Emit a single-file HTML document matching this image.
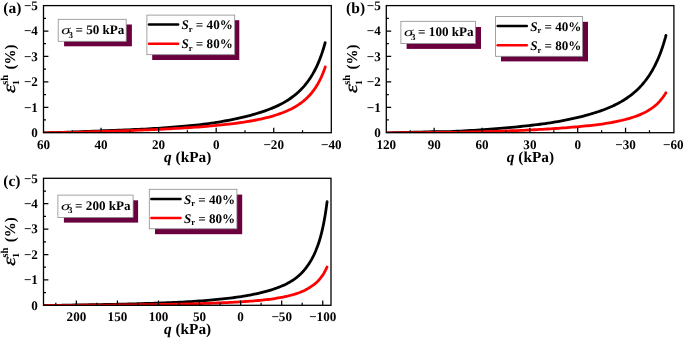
<!DOCTYPE html>
<html><head><meta charset="utf-8"><title>Figure</title>
<style>html,body{margin:0;padding:0;background:#fff;}body{width:685px;height:338px;overflow:hidden;font-family:"Liberation Serif",serif;}</style></head>
<body>
<svg width="685" height="338" viewBox="0 0 685 338" style="display:block;will-change:transform">
<rect width="685" height="338" fill="#fff"/>
<g font-family='"Liberation Serif", serif' font-weight="bold" fill="#000" text-rendering="geometricPrecision">
<clipPath id="cp0"><rect x="43.50" y="5.60" width="287.80" height="127.10"/></clipPath>
<rect x="64.1" y="24.5" width="67.8" height="21.8" fill="#6b003e"/>
<rect x="58.2" y="19.3" width="68.0" height="22.0" fill="#fff" stroke="#8c8c8c" stroke-width="0.8"/>
<text transform="translate(61.2 34.2) scale(1.5 1)" font-size="12.4" font-style="italic" font-weight="normal">σ</text>
<text x="68.4" y="37.5" font-size="9">3</text>
<text x="75.4" y="34.2" font-size="13.1">= 50 kPa</text>
<rect x="152.2" y="20.2" width="87.1" height="39.8" fill="#6b003e"/>
<rect x="146.9" y="15.1" width="87.8" height="39.6" fill="#fff" stroke="#8c8c8c" stroke-width="0.8"/>
<line x1="149.0" y1="24.6" x2="178.1" y2="24.6" stroke="#000" stroke-width="2.5" stroke-linecap="round"/>
<text x="181.5" y="29.2" font-size="13.1"><tspan font-style="italic">S</tspan><tspan font-size="8.5" dy="2.8">r</tspan><tspan dy="-2.8"> = 40%</tspan></text>
<line x1="149.0" y1="43.8" x2="178.1" y2="43.8" stroke="#f00" stroke-width="2.5" stroke-linecap="round"/>
<text x="181.5" y="48.4" font-size="13.1"><tspan font-style="italic">S</tspan><tspan font-size="8.5" dy="2.8">r</tspan><tspan dy="-2.8"> = 80%</tspan></text>
<g clip-path="url(#cp0)">
<path d="M43.50 132.90 L47.51 132.79 L51.49 132.67 L55.44 132.56 L59.36 132.44 L63.26 132.32 L67.12 132.19 L70.96 132.07 L74.77 131.93 L78.55 131.80 L82.30 131.65 L86.02 131.51 L89.71 131.36 L93.38 131.21 L97.01 131.06 L100.62 130.91 L104.20 130.77 L107.75 130.62 L111.27 130.48 L114.76 130.34 L118.22 130.21 L121.66 130.07 L125.06 129.93 L128.44 129.79 L131.79 129.65 L135.11 129.50 L138.40 129.35 L141.66 129.19 L144.89 129.03 L148.10 128.86 L151.27 128.69 L154.42 128.50 L157.54 128.31 L160.63 128.11 L163.69 127.90 L166.72 127.69 L169.73 127.46 L172.70 127.24 L175.65 127.00 L178.56 126.76 L181.45 126.51 L184.31 126.26 L187.14 126.00 L189.94 125.73 L192.72 125.45 L195.46 125.16 L198.18 124.87 L200.86 124.56 L203.52 124.24 L206.15 123.91 L208.75 123.55 L211.33 123.19 L213.87 122.81 L216.38 122.42 L218.87 122.02 L221.33 121.60 L223.76 121.18 L226.16 120.75 L228.53 120.31 L230.87 119.85 L233.18 119.40 L235.47 118.93 L237.72 118.45 L239.95 117.95 L242.15 117.44 L244.32 116.92 L246.46 116.39 L248.57 115.84 L250.66 115.28 L252.71 114.70 L254.74 114.12 L256.73 113.53 L258.70 112.92 L260.64 112.31 L262.55 111.68 L264.44 111.05 L266.29 110.40 L268.12 109.73 L269.91 109.05 L271.68 108.35 L273.42 107.63 L275.13 106.89 L276.81 106.14 L278.46 105.36 L280.09 104.55 L281.68 103.73 L283.25 102.88 L284.78 102.01 L286.29 101.11 L287.77 100.19 L289.23 99.24 L290.65 98.26 L292.04 97.26 L293.41 96.23 L294.74 95.18 L296.05 94.10 L297.33 92.99 L298.58 91.86 L299.80 90.70 L300.99 89.52 L302.16 88.31 L303.29 87.07 L304.40 85.81 L305.48 84.52 L306.53 83.20 L307.55 81.87 L308.54 80.51 L309.50 79.13 L310.44 77.73 L311.34 76.31 L312.22 74.87 L313.06 73.42 L313.88 71.95 L314.67 70.48 L315.44 69.00 L316.17 67.52 L316.87 66.03 L317.55 64.55 L318.19 63.08 L318.81 61.61 L319.40 60.17 L319.96 58.74 L320.49 57.34 L321.00 55.97 L321.47 54.64 L321.92 53.35 L322.33 52.11 L322.72 50.92 L323.08 49.79 L323.41 48.73 L323.71 47.74 L323.99 46.82 L324.23 45.99 L324.45 45.24 L324.63 44.58 L324.79 44.01 L324.92 43.54 L325.02 43.18 L325.09 42.91 L325.14 42.76 L325.15 42.70" fill="none" stroke="#000" stroke-width="2.8" stroke-linecap="round" stroke-linejoin="round"/>
<path d="M43.50 132.90 L47.51 132.83 L51.49 132.75 L55.45 132.67 L59.37 132.60 L63.27 132.52 L67.13 132.43 L70.97 132.35 L74.78 132.26 L78.56 132.16 L82.31 132.06 L86.04 131.96 L89.73 131.85 L93.40 131.74 L97.03 131.63 L100.64 131.52 L104.22 131.41 L107.77 131.30 L111.29 131.19 L114.79 131.08 L118.25 130.96 L121.69 130.84 L125.09 130.72 L128.47 130.60 L131.82 130.48 L135.14 130.35 L138.43 130.22 L141.70 130.09 L144.93 129.95 L148.14 129.82 L151.31 129.68 L154.46 129.54 L157.58 129.39 L160.67 129.25 L163.73 129.10 L166.77 128.95 L169.77 128.79 L172.75 128.63 L175.69 128.47 L178.61 128.30 L181.50 128.13 L184.36 127.95 L187.19 127.77 L190.00 127.59 L192.77 127.40 L195.52 127.20 L198.23 127.00 L200.92 126.80 L203.58 126.59 L206.21 126.38 L208.81 126.16 L211.39 125.93 L213.93 125.70 L216.45 125.46 L218.93 125.21 L221.39 124.96 L223.82 124.71 L226.22 124.44 L228.59 124.17 L230.94 123.89 L233.25 123.60 L235.54 123.31 L237.79 123.00 L240.02 122.69 L242.22 122.37 L244.39 122.04 L246.53 121.70 L248.65 121.36 L250.73 121.00 L252.79 120.63 L254.81 120.25 L256.81 119.86 L258.78 119.46 L260.72 119.05 L262.63 118.62 L264.52 118.18 L266.37 117.73 L268.20 117.27 L269.99 116.79 L271.76 116.30 L273.50 115.80 L275.21 115.28 L276.89 114.74 L278.55 114.19 L280.17 113.62 L281.77 113.04 L283.33 112.44 L284.87 111.82 L286.38 111.18 L287.86 110.53 L289.31 109.85 L290.74 109.16 L292.13 108.45 L293.50 107.71 L294.83 106.96 L296.14 106.19 L297.42 105.39 L298.67 104.57 L299.89 103.74 L301.09 102.88 L302.25 102.00 L303.39 101.10 L304.49 100.17 L305.57 99.23 L306.62 98.26 L307.64 97.28 L308.63 96.27 L309.60 95.25 L310.53 94.20 L311.44 93.14 L312.31 92.06 L313.16 90.97 L313.98 89.87 L314.77 88.75 L315.53 87.63 L316.27 86.49 L316.97 85.36 L317.65 84.22 L318.29 83.08 L318.91 81.95 L319.50 80.83 L320.06 79.71 L320.59 78.62 L321.10 77.55 L321.57 76.50 L322.02 75.48 L322.43 74.50 L322.82 73.55 L323.18 72.65 L323.51 71.80 L323.81 71.01 L324.09 70.27 L324.33 69.60 L324.55 69.00 L324.73 68.46 L324.89 68.01 L325.02 67.63 L325.12 67.33 L325.19 67.12 L325.24 66.99 L325.25 66.94" fill="none" stroke="#f00" stroke-width="2.8" stroke-linecap="round" stroke-linejoin="round"/>
</g>
<rect x="43.50" y="5.60" width="287.80" height="127.10" fill="none" stroke="#000" stroke-width="1.30"/>
<path d="M43.50 119.99h2.5M43.50 107.28h4.9M43.50 94.57h2.5M43.50 81.86h4.9M43.50 69.15h2.5M43.50 56.44h4.9M43.50 43.73h2.5M43.50 31.02h4.9M43.50 18.31h2.5M101.06 132.70v-4.9M158.62 132.70v-4.9M216.18 132.70v-4.9M273.74 132.70v-4.9M72.28 132.70v-2.5M129.84 132.70v-2.5M187.40 132.70v-2.5M244.96 132.70v-2.5M302.52 132.70v-2.5" stroke="#000" stroke-width="1.25" fill="none"/>
<text x="37.9" y="136.9" font-size="13.1" text-anchor="end">0</text>
<text x="37.9" y="111.5" font-size="13.1" text-anchor="end">−1</text>
<text x="37.9" y="86.1" font-size="13.1" text-anchor="end">−2</text>
<text x="37.9" y="60.6" font-size="13.1" text-anchor="end">−3</text>
<text x="37.9" y="35.2" font-size="13.1" text-anchor="end">−4</text>
<text x="37.9" y="9.8" font-size="13.1" text-anchor="end">−5</text>
<text x="43.5" y="148.7" font-size="13.1" text-anchor="middle">60</text>
<text x="101.1" y="148.7" font-size="13.1" text-anchor="middle">40</text>
<text x="158.6" y="148.7" font-size="13.1" text-anchor="middle">20</text>
<text x="216.2" y="148.7" font-size="13.1" text-anchor="middle">0</text>
<text x="273.7" y="148.7" font-size="13.1" text-anchor="middle">−20</text>
<text x="331.3" y="148.7" font-size="13.1" text-anchor="middle">−40</text>
<text x="187.7" y="161.5" font-size="15.3" text-anchor="middle"><tspan font-style="italic">q</tspan> (kPa)</text>
<g transform="translate(14.5 93.6) rotate(-90)">
<text x="0.5" y="0" font-size="17.5" font-style="italic" font-weight="normal" stroke="#000" stroke-width="0.3" textLength="8.6" lengthAdjust="spacingAndGlyphs">ε</text>
<text x="8.6" y="4.8" font-size="9.5">1</text>
<text x="8.8" y="-7.0" font-size="10.5">sh</text>
<text x="24.0" y="0" font-size="15">(%)</text>
</g>
<text x="3.3" y="13.2" font-size="15.5">(a)</text>
<clipPath id="cp1"><rect x="386.30" y="5.60" width="287.60" height="127.10"/></clipPath>
<rect x="406.6" y="27.0" width="74.4" height="21.9" fill="#6b003e"/>
<rect x="400.9" y="21.3" width="74.7" height="22.3" fill="#fff" stroke="#8c8c8c" stroke-width="0.8"/>
<text transform="translate(403.9 36.2) scale(1.5 1)" font-size="12.4" font-style="italic" font-weight="normal">σ</text>
<text x="411.1" y="39.5" font-size="9">3</text>
<text x="418.1" y="36.2" font-size="13.1">= 100 kPa</text>
<rect x="501.0" y="21.8" width="87.0" height="39.6" fill="#6b003e"/>
<rect x="495.6" y="16.5" width="87.0" height="39.8" fill="#fff" stroke="#8c8c8c" stroke-width="0.8"/>
<line x1="497.7" y1="26.1" x2="526.8" y2="26.1" stroke="#000" stroke-width="2.5" stroke-linecap="round"/>
<text x="530.2" y="30.6" font-size="13.1"><tspan font-style="italic">S</tspan><tspan font-size="8.5" dy="2.8">r</tspan><tspan dy="-2.8"> = 40%</tspan></text>
<line x1="497.7" y1="45.2" x2="526.8" y2="45.2" stroke="#f00" stroke-width="2.5" stroke-linecap="round"/>
<text x="530.2" y="49.8" font-size="13.1"><tspan font-style="italic">S</tspan><tspan font-size="8.5" dy="2.8">r</tspan><tspan dy="-2.8"> = 80%</tspan></text>
<g clip-path="url(#cp1)">
<path d="M386.30 132.95 L390.28 132.83 L394.23 132.71 L398.16 132.60 L402.05 132.50 L405.92 132.40 L409.76 132.30 L413.57 132.21 L417.35 132.12 L421.10 132.03 L424.82 131.94 L428.52 131.85 L432.19 131.76 L435.82 131.70 L439.43 131.69 L443.01 131.70 L446.57 131.69 L450.09 131.61 L453.59 131.45 L457.05 131.26 L460.49 131.08 L463.90 130.89 L467.28 130.69 L470.64 130.49 L473.96 130.28 L477.26 130.08 L480.52 129.86 L483.76 129.64 L486.97 129.42 L490.16 129.19 L493.31 128.95 L496.43 128.70 L499.53 128.44 L502.60 128.18 L505.64 127.91 L508.65 127.64 L511.63 127.36 L514.58 127.08 L517.51 126.79 L520.40 126.50 L523.27 126.20 L526.11 125.89 L528.92 125.58 L531.70 125.26 L534.46 124.93 L537.18 124.59 L539.88 124.24 L542.55 123.89 L545.19 123.53 L547.80 123.15 L550.38 122.76 L552.93 122.36 L555.46 121.95 L557.96 121.52 L560.42 121.07 L562.86 120.62 L565.28 120.15 L567.66 119.68 L570.01 119.19 L572.34 118.69 L574.64 118.18 L576.90 117.66 L579.14 117.13 L581.36 116.58 L583.54 116.03 L585.69 115.46 L587.82 114.87 L589.92 114.27 L591.99 113.66 L594.03 113.03 L596.04 112.39 L598.02 111.74 L599.98 111.07 L601.90 110.39 L603.80 109.69 L605.67 108.98 L607.51 108.25 L609.32 107.50 L611.10 106.73 L612.86 105.94 L614.59 105.12 L616.28 104.29 L617.95 103.43 L619.59 102.55 L621.21 101.65 L622.79 100.71 L624.34 99.75 L625.87 98.77 L627.37 97.75 L628.84 96.71 L630.28 95.65 L631.69 94.55 L633.08 93.43 L634.43 92.28 L635.76 91.11 L637.06 89.91 L638.33 88.68 L639.57 87.43 L640.78 86.15 L641.97 84.84 L643.12 83.50 L644.25 82.14 L645.35 80.75 L646.42 79.33 L647.46 77.90 L648.47 76.44 L649.46 74.96 L650.41 73.46 L651.34 71.95 L652.24 70.43 L653.11 68.89 L653.95 67.35 L654.76 65.79 L655.55 64.24 L656.30 62.68 L657.03 61.11 L657.73 59.56 L658.40 58.00 L659.04 56.46 L659.66 54.93 L660.24 53.43 L660.80 51.94 L661.33 50.49 L661.83 49.07 L662.30 47.70 L662.74 46.36 L663.15 45.08 L663.54 43.86 L663.90 42.70 L664.22 41.61 L664.52 40.59 L664.79 39.65 L665.04 38.80 L665.25 38.03 L665.44 37.36 L665.59 36.78 L665.72 36.31 L665.82 35.94 L665.89 35.67 L665.94 35.51 L665.95 35.45" fill="none" stroke="#000" stroke-width="2.8" stroke-linecap="round" stroke-linejoin="round"/>
<path d="M386.30 132.95 L390.28 132.90 L394.23 132.85 L398.15 132.80 L402.05 132.76 L405.91 132.72 L409.75 132.68 L413.56 132.65 L417.34 132.61 L421.09 132.57 L424.82 132.54 L428.51 132.50 L432.18 132.47 L435.81 132.44 L439.42 132.43 L443.00 132.44 L446.56 132.43 L450.08 132.40 L453.58 132.35 L457.04 132.28 L460.48 132.21 L463.89 132.14 L467.27 132.06 L470.62 131.99 L473.95 131.91 L477.24 131.83 L480.51 131.74 L483.75 131.66 L486.96 131.57 L490.14 131.48 L493.29 131.38 L496.41 131.29 L499.51 131.19 L502.58 131.08 L505.62 130.98 L508.62 130.87 L511.61 130.76 L514.56 130.64 L517.48 130.53 L520.38 130.41 L523.25 130.28 L526.09 130.15 L528.90 130.02 L531.68 129.89 L534.43 129.75 L537.16 129.60 L539.85 129.46 L542.52 129.31 L545.16 129.15 L547.77 129.00 L550.35 128.83 L552.90 128.67 L555.43 128.50 L557.93 128.33 L560.39 128.15 L562.83 127.97 L565.24 127.79 L567.63 127.60 L569.98 127.41 L572.31 127.21 L574.60 127.01 L576.87 126.81 L579.11 126.60 L581.32 126.39 L583.50 126.18 L585.66 125.96 L587.78 125.75 L589.88 125.54 L591.95 125.31 L593.99 125.08 L596.00 124.85 L597.98 124.60 L599.94 124.34 L601.86 124.06 L603.76 123.78 L605.63 123.49 L607.47 123.19 L609.28 122.88 L611.06 122.57 L612.82 122.25 L614.54 121.92 L616.24 121.58 L617.91 121.23 L619.55 120.87 L621.16 120.50 L622.75 120.13 L624.30 119.74 L625.83 119.35 L627.33 118.94 L628.80 118.53 L630.24 118.10 L631.65 117.67 L633.03 117.23 L634.39 116.77 L635.71 116.31 L637.01 115.83 L638.28 115.34 L639.52 114.85 L640.74 114.34 L641.92 113.82 L643.08 113.30 L644.20 112.76 L645.30 112.20 L646.37 111.61 L647.41 111.01 L648.42 110.39 L649.41 109.77 L650.37 109.16 L651.29 108.54 L652.19 107.92 L653.06 107.30 L653.90 106.67 L654.72 106.04 L655.50 105.40 L656.26 104.75 L656.98 104.08 L657.68 103.40 L658.35 102.71 L659.00 102.01 L659.61 101.33 L660.19 100.65 L660.75 100.00 L661.28 99.36 L661.78 98.73 L662.25 98.13 L662.69 97.55 L663.10 96.98 L663.49 96.45 L663.85 95.94 L664.17 95.47 L664.47 95.02 L664.74 94.61 L664.99 94.24 L665.20 93.91 L665.39 93.62 L665.54 93.37 L665.67 93.16 L665.77 93.00 L665.84 92.89 L665.89 92.82 L665.90 92.79" fill="none" stroke="#f00" stroke-width="2.8" stroke-linecap="round" stroke-linejoin="round"/>
</g>
<rect x="386.30" y="5.60" width="287.60" height="127.10" fill="none" stroke="#000" stroke-width="1.30"/>
<path d="M386.30 119.99h2.5M386.30 107.28h4.9M386.30 94.57h2.5M386.30 81.86h4.9M386.30 69.15h2.5M386.30 56.44h4.9M386.30 43.73h2.5M386.30 31.02h4.9M386.30 18.31h2.5M434.15 132.70v-4.9M482.00 132.70v-4.9M529.85 132.70v-4.9M577.70 132.70v-4.9M625.55 132.70v-4.9M410.23 132.70v-2.5M458.08 132.70v-2.5M505.93 132.70v-2.5M553.77 132.70v-2.5M601.62 132.70v-2.5M649.48 132.70v-2.5" stroke="#000" stroke-width="1.25" fill="none"/>
<text x="380.7" y="136.9" font-size="13.1" text-anchor="end">0</text>
<text x="380.7" y="111.5" font-size="13.1" text-anchor="end">−1</text>
<text x="380.7" y="86.1" font-size="13.1" text-anchor="end">−2</text>
<text x="380.7" y="60.6" font-size="13.1" text-anchor="end">−3</text>
<text x="380.7" y="35.2" font-size="13.1" text-anchor="end">−4</text>
<text x="380.7" y="9.8" font-size="13.1" text-anchor="end">−5</text>
<text x="386.3" y="148.7" font-size="13.1" text-anchor="middle">120</text>
<text x="434.2" y="148.7" font-size="13.1" text-anchor="middle">90</text>
<text x="482.0" y="148.7" font-size="13.1" text-anchor="middle">60</text>
<text x="529.9" y="148.7" font-size="13.1" text-anchor="middle">30</text>
<text x="577.7" y="148.7" font-size="13.1" text-anchor="middle">0</text>
<text x="625.5" y="148.7" font-size="13.1" text-anchor="middle">−30</text>
<text x="673.4" y="148.7" font-size="13.1" text-anchor="middle">−60</text>
<text x="530.4" y="161.5" font-size="15.3" text-anchor="middle"><tspan font-style="italic">q</tspan> (kPa)</text>
<g transform="translate(357.3 93.6) rotate(-90)">
<text x="0.5" y="0" font-size="17.5" font-style="italic" font-weight="normal" stroke="#000" stroke-width="0.3" textLength="8.6" lengthAdjust="spacingAndGlyphs">ε</text>
<text x="8.6" y="4.8" font-size="9.5">1</text>
<text x="8.8" y="-7.0" font-size="10.5">sh</text>
<text x="24.0" y="0" font-size="15">(%)</text>
</g>
<text x="346.1" y="13.2" font-size="15.5">(b)</text>
<clipPath id="cp2"><rect x="43.50" y="178.30" width="287.50" height="127.00"/></clipPath>
<rect x="63.9" y="200.3" width="74.2" height="22.3" fill="#6b003e"/>
<rect x="57.9" y="195.1" width="75.2" height="22.3" fill="#fff" stroke="#8c8c8c" stroke-width="0.8"/>
<text transform="translate(60.9 210.0) scale(1.5 1)" font-size="12.4" font-style="italic" font-weight="normal">σ</text>
<text x="68.1" y="213.3" font-size="9">3</text>
<text x="75.1" y="210.0" font-size="13.1">= 200 kPa</text>
<rect x="155.0" y="194.6" width="87.2" height="39.6" fill="#6b003e"/>
<rect x="149.3" y="189.3" width="87.6" height="39.5" fill="#fff" stroke="#8c8c8c" stroke-width="0.8"/>
<line x1="151.4" y1="198.9" x2="180.5" y2="198.9" stroke="#000" stroke-width="2.5" stroke-linecap="round"/>
<text x="183.9" y="203.5" font-size="13.1"><tspan font-style="italic">S</tspan><tspan font-size="8.5" dy="2.8">r</tspan><tspan dy="-2.8"> = 40%</tspan></text>
<line x1="151.4" y1="218.0" x2="180.5" y2="218.0" stroke="#f00" stroke-width="2.5" stroke-linecap="round"/>
<text x="183.9" y="222.6" font-size="13.1"><tspan font-style="italic">S</tspan><tspan font-size="8.5" dy="2.8">r</tspan><tspan dy="-2.8"> = 80%</tspan></text>
<g clip-path="url(#cp2)">
<path d="M43.50 305.55 L47.54 305.48 L51.54 305.42 L55.52 305.35 L59.47 305.29 L63.40 305.22 L67.29 305.16 L71.15 305.09 L74.99 305.02 L78.79 304.96 L82.57 304.89 L86.31 304.82 L90.03 304.75 L93.72 304.68 L97.38 304.62 L101.02 304.55 L104.62 304.49 L108.19 304.42 L111.74 304.35 L115.25 304.29 L118.74 304.21 L122.20 304.14 L125.63 304.06 L129.03 303.98 L132.40 303.90 L135.74 303.81 L139.06 303.72 L142.34 303.62 L145.60 303.52 L148.82 303.42 L152.02 303.32 L155.19 303.21 L158.33 303.10 L161.44 302.98 L164.52 302.87 L167.58 302.74 L170.60 302.62 L173.59 302.48 L176.56 302.34 L179.50 302.20 L182.41 302.05 L185.29 301.89 L188.14 301.72 L190.96 301.55 L193.75 301.37 L196.51 301.18 L199.25 300.98 L201.95 300.78 L204.63 300.57 L207.28 300.35 L209.90 300.13 L212.49 299.90 L215.05 299.66 L217.58 299.42 L220.08 299.17 L222.56 298.91 L225.00 298.64 L227.42 298.37 L229.81 298.08 L232.17 297.79 L234.50 297.49 L236.80 297.18 L239.07 296.86 L241.31 296.53 L243.52 296.18 L245.71 295.81 L247.87 295.43 L249.99 295.04 L252.09 294.63 L254.16 294.20 L256.20 293.76 L258.21 293.31 L260.19 292.85 L262.15 292.38 L264.07 291.89 L265.97 291.40 L267.83 290.89 L269.67 290.36 L271.48 289.81 L273.26 289.24 L275.01 288.66 L276.73 288.05 L278.42 287.42 L280.09 286.76 L281.72 286.08 L283.33 285.38 L284.91 284.65 L286.46 283.88 L287.97 283.09 L289.47 282.26 L290.93 281.39 L292.36 280.49 L293.76 279.55 L295.14 278.57 L296.48 277.56 L297.80 276.50 L299.09 275.40 L300.35 274.26 L301.58 273.06 L302.78 271.79 L303.95 270.47 L305.09 269.09 L306.21 267.66 L307.29 266.19 L308.35 264.67 L309.38 263.11 L310.37 261.51 L311.34 259.86 L312.28 258.15 L313.19 256.39 L314.08 254.57 L314.93 252.71 L315.76 250.81 L316.55 248.85 L317.32 246.85 L318.06 244.79 L318.77 242.68 L319.45 240.53 L320.10 238.33 L320.72 236.10 L321.31 233.85 L321.88 231.57 L322.41 229.27 L322.92 226.98 L323.40 224.70 L323.84 222.43 L324.26 220.20 L324.65 218.02 L325.02 215.91 L325.35 213.88 L325.65 211.94 L325.93 210.13 L326.17 208.44 L326.39 206.91 L326.58 205.54 L326.74 204.36 L326.87 203.37 L326.97 202.58 L327.04 202.02 L327.09 201.67 L327.10 201.56" fill="none" stroke="#000" stroke-width="2.8" stroke-linecap="round" stroke-linejoin="round"/>
<path d="M43.50 305.55 L47.54 305.52 L51.54 305.49 L55.52 305.47 L59.47 305.44 L63.39 305.41 L67.28 305.38 L71.14 305.35 L74.97 305.33 L78.78 305.30 L82.55 305.27 L86.30 305.24 L90.02 305.21 L93.71 305.18 L97.36 305.15 L101.00 305.12 L104.60 305.10 L108.17 305.07 L111.71 305.04 L115.23 305.01 L118.71 304.98 L122.17 304.95 L125.60 304.92 L129.00 304.88 L132.37 304.85 L135.71 304.81 L139.02 304.77 L142.31 304.73 L145.56 304.69 L148.79 304.64 L151.98 304.60 L155.15 304.55 L158.29 304.51 L161.40 304.46 L164.48 304.41 L167.53 304.36 L170.55 304.30 L173.55 304.25 L176.51 304.19 L179.45 304.13 L182.36 304.06 L185.24 304.00 L188.09 303.93 L190.91 303.86 L193.70 303.78 L196.46 303.71 L199.19 303.62 L201.90 303.54 L204.57 303.45 L207.22 303.36 L209.84 303.27 L212.43 303.18 L214.99 303.08 L217.52 302.98 L220.02 302.88 L222.50 302.77 L224.94 302.66 L227.36 302.55 L229.74 302.43 L232.10 302.31 L234.43 302.18 L236.73 302.05 L239.00 301.92 L241.24 301.78 L243.45 301.64 L245.64 301.50 L247.79 301.34 L249.92 301.19 L252.02 301.03 L254.09 300.86 L256.12 300.69 L258.14 300.51 L260.12 300.33 L262.07 300.14 L263.99 299.94 L265.89 299.73 L267.75 299.51 L269.59 299.28 L271.40 299.04 L273.18 298.78 L274.93 298.51 L276.65 298.23 L278.34 297.94 L280.01 297.65 L281.64 297.34 L283.25 297.02 L284.82 296.68 L286.37 296.34 L287.89 295.99 L289.38 295.63 L290.84 295.26 L292.27 294.88 L293.67 294.48 L295.05 294.07 L296.39 293.65 L297.71 293.21 L299.00 292.75 L300.26 292.28 L301.48 291.79 L302.69 291.28 L303.86 290.75 L305.00 290.19 L306.11 289.60 L307.20 288.99 L308.25 288.36 L309.28 287.73 L310.28 287.09 L311.25 286.45 L312.19 285.81 L313.10 285.17 L313.98 284.51 L314.84 283.84 L315.66 283.15 L316.46 282.44 L317.22 281.72 L317.96 280.98 L318.67 280.23 L319.35 279.47 L320.00 278.71 L320.62 277.95 L321.21 277.19 L321.78 276.43 L322.31 275.68 L322.82 274.93 L323.30 274.19 L323.75 273.46 L324.17 272.74 L324.56 272.05 L324.92 271.39 L325.25 270.76 L325.55 270.16 L325.83 269.61 L326.07 269.10 L326.29 268.63 L326.48 268.22 L326.64 267.87 L326.77 267.57 L326.87 267.34 L326.94 267.17 L326.99 267.06 L327.00 267.03" fill="none" stroke="#f00" stroke-width="2.8" stroke-linecap="round" stroke-linejoin="round"/>
</g>
<rect x="43.50" y="178.30" width="287.50" height="127.00" fill="none" stroke="#000" stroke-width="1.30"/>
<path d="M43.50 292.60h2.5M43.50 279.90h4.9M43.50 267.20h2.5M43.50 254.50h4.9M43.50 241.80h2.5M43.50 229.10h4.9M43.50 216.40h2.5M43.50 203.70h4.9M43.50 191.00h2.5M76.35 305.30v-4.9M117.42 305.30v-4.9M158.48 305.30v-4.9M199.55 305.30v-4.9M240.61 305.30v-4.9M281.68 305.30v-4.9M322.74 305.30v-4.9M55.82 305.30v-2.5M96.88 305.30v-2.5M137.95 305.30v-2.5M179.01 305.30v-2.5M220.08 305.30v-2.5M261.14 305.30v-2.5M302.21 305.30v-2.5" stroke="#000" stroke-width="1.25" fill="none"/>
<text x="37.9" y="309.5" font-size="13.1" text-anchor="end">0</text>
<text x="37.9" y="284.1" font-size="13.1" text-anchor="end">−1</text>
<text x="37.9" y="258.7" font-size="13.1" text-anchor="end">−2</text>
<text x="37.9" y="233.3" font-size="13.1" text-anchor="end">−3</text>
<text x="37.9" y="207.9" font-size="13.1" text-anchor="end">−4</text>
<text x="37.9" y="182.5" font-size="13.1" text-anchor="end">−5</text>
<text x="76.4" y="321.3" font-size="13.1" text-anchor="middle">200</text>
<text x="117.4" y="321.3" font-size="13.1" text-anchor="middle">150</text>
<text x="158.5" y="321.3" font-size="13.1" text-anchor="middle">100</text>
<text x="199.5" y="321.3" font-size="13.1" text-anchor="middle">50</text>
<text x="240.6" y="321.3" font-size="13.1" text-anchor="middle">0</text>
<text x="281.7" y="321.3" font-size="13.1" text-anchor="middle">−50</text>
<text x="322.7" y="321.3" font-size="13.1" text-anchor="middle">−100</text>
<text x="187.6" y="334.1" font-size="15.3" text-anchor="middle"><tspan font-style="italic">q</tspan> (kPa)</text>
<g transform="translate(14.5 266.3) rotate(-90)">
<text x="0.5" y="0" font-size="17.5" font-style="italic" font-weight="normal" stroke="#000" stroke-width="0.3" textLength="8.6" lengthAdjust="spacingAndGlyphs">ε</text>
<text x="8.6" y="4.8" font-size="9.5">1</text>
<text x="8.8" y="-7.0" font-size="10.5">sh</text>
<text x="24.0" y="0" font-size="15">(%)</text>
</g>
<text x="3.3" y="185.9" font-size="15.5">(c)</text>
</g></svg>
</body></html>
